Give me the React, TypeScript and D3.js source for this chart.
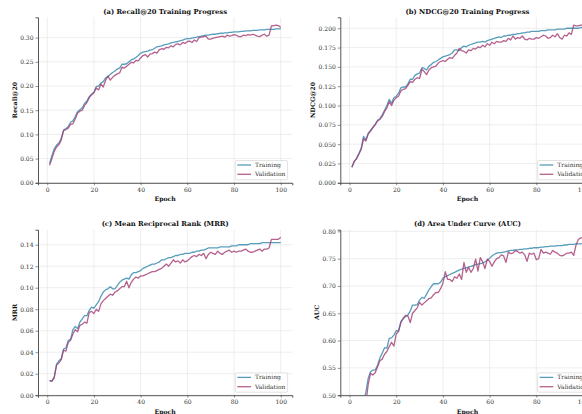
import React, { useEffect, useRef } from 'react';
import * as d3 from 'd3';

const epochs = d3.range(1, 101);

const recallTrain = [
  0.040, 0.056, 0.070, 0.078, 0.082, 0.092, 0.109, 0.112, 0.116, 0.125,
  0.128, 0.137, 0.147, 0.151, 0.155, 0.164, 0.169, 0.178, 0.183, 0.187,
  0.199, 0.200, 0.206, 0.209, 0.217, 0.219, 0.224, 0.228, 0.231, 0.235,
  0.237, 0.245, 0.245, 0.246, 0.250, 0.254, 0.256, 0.259, 0.263, 0.268,
  0.270, 0.271, 0.272, 0.274, 0.275, 0.278, 0.281, 0.282, 0.283, 0.285,
  0.286, 0.287, 0.289, 0.290, 0.291, 0.292, 0.294, 0.295, 0.297, 0.298,
  0.298, 0.299, 0.300, 0.301, 0.302, 0.303, 0.304, 0.305, 0.305, 0.306,
  0.307, 0.307, 0.308, 0.309, 0.309, 0.310, 0.310, 0.311, 0.311, 0.312,
  0.312, 0.312, 0.313, 0.313, 0.314, 0.314, 0.314, 0.315, 0.315, 0.315,
  0.316, 0.316, 0.316, 0.317, 0.317, 0.317, 0.317, 0.318, 0.318, 0.318,
];
const recallVal = [
  0.036, 0.050, 0.065, 0.074, 0.079, 0.088, 0.108, 0.110, 0.113, 0.121,
  0.122, 0.132, 0.144, 0.148, 0.150, 0.160, 0.166, 0.176, 0.182, 0.186,
  0.196, 0.192, 0.204, 0.198, 0.212, 0.221, 0.212, 0.218, 0.222, 0.225,
  0.227, 0.239, 0.237, 0.241, 0.245, 0.249, 0.248, 0.253, 0.252, 0.258,
  0.263, 0.265, 0.260, 0.266, 0.267, 0.270, 0.268, 0.275, 0.277, 0.276,
  0.280, 0.279, 0.283, 0.281, 0.286, 0.287, 0.285, 0.290, 0.288, 0.292,
  0.293, 0.290, 0.295, 0.292, 0.300, 0.301, 0.302, 0.303, 0.297, 0.297,
  0.299, 0.300, 0.301, 0.302, 0.303, 0.301, 0.305, 0.303, 0.304, 0.306,
  0.305, 0.302, 0.302, 0.305, 0.304, 0.306, 0.305, 0.307, 0.305, 0.303,
  0.302, 0.305, 0.307, 0.303, 0.305, 0.324, 0.325, 0.326, 0.325, 0.321,
];

const ndcgTrain = [
  0.020, 0.027, 0.032, 0.038, 0.045, 0.060, 0.056, 0.064, 0.068, 0.072,
  0.076, 0.081, 0.083, 0.088, 0.094, 0.100, 0.108, 0.103, 0.110, 0.112,
  0.116, 0.123, 0.124, 0.124, 0.128, 0.134, 0.134, 0.139, 0.141, 0.142,
  0.149, 0.148, 0.146, 0.151, 0.153, 0.156, 0.157, 0.159, 0.161, 0.163,
  0.164, 0.165, 0.166, 0.168, 0.172, 0.172, 0.171, 0.175, 0.177, 0.176,
  0.178, 0.179, 0.180, 0.181, 0.182, 0.182, 0.183, 0.182, 0.184, 0.185,
  0.186, 0.187, 0.188, 0.189, 0.188, 0.190, 0.190, 0.191, 0.191, 0.192,
  0.192, 0.193, 0.193, 0.194, 0.194, 0.195, 0.195, 0.196, 0.196, 0.196,
  0.196, 0.197, 0.197, 0.197, 0.198, 0.198, 0.198, 0.198, 0.199, 0.199,
  0.199, 0.199, 0.200, 0.200, 0.200, 0.200, 0.200, 0.200, 0.201, 0.201,
];
const ndcgVal = [
  0.020, 0.028, 0.031, 0.037, 0.043, 0.057, 0.054, 0.063, 0.067, 0.071,
  0.075, 0.080, 0.082, 0.086, 0.092, 0.097, 0.105, 0.100, 0.107, 0.110,
  0.112, 0.119, 0.121, 0.122, 0.126, 0.131, 0.130, 0.134, 0.136, 0.135,
  0.147, 0.144, 0.140, 0.146, 0.149, 0.150, 0.151, 0.155, 0.157, 0.158,
  0.157, 0.160, 0.162, 0.161, 0.165, 0.168, 0.174, 0.171, 0.170, 0.168,
  0.172, 0.171, 0.174, 0.173, 0.176, 0.175, 0.178, 0.176, 0.180, 0.178,
  0.182, 0.180, 0.183, 0.182, 0.182, 0.184, 0.183, 0.187, 0.185, 0.190,
  0.186, 0.188, 0.187, 0.190, 0.186, 0.185, 0.187, 0.186, 0.186, 0.188,
  0.187, 0.189, 0.191, 0.190, 0.187, 0.188, 0.191, 0.189, 0.193, 0.188,
  0.186, 0.191, 0.190, 0.194, 0.192, 0.204, 0.203, 0.203, 0.204, 0.204,
];

const mrrTrain = [
  0.0135, 0.013, 0.016, 0.029, 0.032, 0.034, 0.043, 0.044, 0.051, 0.052,
  0.061, 0.064, 0.062, 0.068, 0.071, 0.074, 0.074, 0.079, 0.082, 0.081,
  0.084, 0.087, 0.092, 0.096, 0.098, 0.099, 0.101, 0.099, 0.099, 0.102,
  0.105, 0.107, 0.108, 0.109, 0.108, 0.112, 0.114, 0.114, 0.115, 0.116,
  0.118, 0.119, 0.120, 0.121, 0.122, 0.122, 0.123, 0.124, 0.126, 0.126,
  0.127, 0.128, 0.128, 0.129, 0.130, 0.130, 0.131, 0.131, 0.132, 0.132,
  0.132, 0.133, 0.133, 0.134, 0.134, 0.135, 0.135, 0.136, 0.137, 0.137,
  0.137, 0.137, 0.137, 0.138, 0.138, 0.138, 0.138, 0.138, 0.139, 0.139,
  0.139, 0.140, 0.140, 0.140, 0.140, 0.140, 0.141, 0.141, 0.141, 0.141,
  0.141, 0.142, 0.142, 0.142, 0.142, 0.142, 0.142, 0.142, 0.142, 0.142,
];
const mrrVal = [
  0.0135, 0.013, 0.017, 0.028, 0.030, 0.033, 0.042, 0.041, 0.049, 0.051,
  0.057, 0.061, 0.059, 0.065, 0.066, 0.068, 0.067, 0.077, 0.078, 0.076,
  0.080, 0.078, 0.085, 0.088, 0.090, 0.092, 0.094, 0.093, 0.096, 0.097,
  0.099, 0.101, 0.101, 0.106, 0.100, 0.105, 0.108, 0.110, 0.109, 0.111,
  0.111, 0.112, 0.113, 0.114, 0.115, 0.115, 0.116, 0.117, 0.118, 0.120,
  0.122, 0.120, 0.123, 0.126, 0.124, 0.125, 0.123, 0.126, 0.124, 0.125,
  0.127, 0.129, 0.130, 0.129, 0.131, 0.130, 0.132, 0.127, 0.131, 0.133,
  0.132, 0.131, 0.134, 0.132, 0.131, 0.133, 0.134, 0.135, 0.133, 0.134,
  0.133, 0.134, 0.134, 0.135, 0.136, 0.134, 0.133, 0.133, 0.134, 0.135,
  0.136, 0.134, 0.136, 0.136, 0.137, 0.145, 0.145, 0.145, 0.145, 0.147,
];

const aucTrain = [
  0.400, 0.425, 0.445, 0.462, 0.478, 0.490, 0.505, 0.531, 0.543, 0.546,
  0.546, 0.555, 0.568, 0.577, 0.587, 0.586, 0.604, 0.605, 0.610, 0.618,
  0.618, 0.635, 0.640, 0.644, 0.647, 0.654, 0.665, 0.665, 0.666, 0.674,
  0.679, 0.677, 0.685, 0.693, 0.699, 0.704, 0.704, 0.704, 0.707, 0.714,
  0.717, 0.719, 0.721, 0.723, 0.725, 0.727, 0.729, 0.731, 0.732, 0.733,
  0.735, 0.736, 0.737, 0.739, 0.740, 0.741, 0.742, 0.744, 0.747, 0.751,
  0.755, 0.758, 0.760, 0.761, 0.761, 0.762, 0.763, 0.764, 0.765, 0.765,
  0.766, 0.766, 0.767, 0.767, 0.768, 0.768, 0.769, 0.769, 0.770, 0.770,
  0.770, 0.771, 0.771, 0.772, 0.772, 0.773, 0.773, 0.773, 0.774, 0.774,
  0.774, 0.775, 0.775, 0.776, 0.776, 0.776, 0.777, 0.777, 0.777, 0.778,
];
const aucVal = [
  0.370, 0.400, 0.420, 0.445, 0.460, 0.470, 0.485, 0.520, 0.540, 0.537,
  0.541, 0.552, 0.563, 0.566, 0.575, 0.580, 0.589, 0.597, 0.590, 0.612,
  0.617, 0.633, 0.641, 0.646, 0.645, 0.633, 0.650, 0.655, 0.660, 0.670,
  0.665, 0.669, 0.673, 0.677, 0.678, 0.684, 0.688, 0.688, 0.695, 0.705,
  0.726, 0.712, 0.712, 0.708, 0.717, 0.714, 0.722, 0.712, 0.743, 0.725,
  0.734, 0.725, 0.732, 0.749, 0.727, 0.752, 0.744, 0.732, 0.749, 0.745,
  0.736, 0.744, 0.750, 0.752, 0.757, 0.755, 0.743, 0.762, 0.759, 0.760,
  0.765, 0.763, 0.760, 0.762, 0.757, 0.745, 0.760, 0.758, 0.760, 0.748,
  0.750, 0.767, 0.760, 0.762, 0.760, 0.758, 0.765, 0.762, 0.760, 0.756,
  0.755, 0.757, 0.760, 0.760, 0.762, 0.756, 0.775, 0.785, 0.788, 0.788,
];

const titles = [
  '(a) Recall@20 Training Progress',
  '(b) NDCG@20 Training Progress',
  '(c) Mean Reciprocal Rank (MRR)',
  '(d) Area Under Curve (AUC)',
];
const yLabels = ['Recall@20', 'NDCG@20', 'MRR', 'AUC'];
const yDomains = [[0, 0.342], [0, 0.2142], [0, 0.154], [0.5, 0.803]];
const yTicks = [
  [0, 0.05, 0.1, 0.15, 0.2, 0.25, 0.3],
  [0, 0.025, 0.05, 0.075, 0.1, 0.125, 0.15, 0.175, 0.2],
  [0, 0.02, 0.04, 0.06, 0.08, 0.1, 0.12, 0.14],
  [0.5, 0.55, 0.6, 0.65, 0.7, 0.75, 0.8],
];
const yFormats = ['.2f', '.3f', '.2f', '.2f'];
const xTicks = [0, 20, 40, 60, 80, 100];
const seriesNames = ['Training', 'Validation'];
const trainSeries = [recallTrain, ndcgTrain, mrrTrain, aucTrain];
const valSeries = [recallVal, ndcgVal, mrrVal, aucVal];

const COLORS = ['#2E86AB', '#A23B72'];
const FONT = "'DejaVu Serif', serif";

const App = () => {
  const svgRef = useRef(null);

  useEffect(() => {
    const svg = d3.select(svgRef.current);
    svg.selectAll('*').remove();

    const colLeft = [38, 340.3];
    const rowTop = [17.3, 229.7];
    const axW = 254.3;
    const axH = 165.5;

    titles.forEach((title, i) => {
      const left = colLeft[i % 2];
      const top = rowTop[Math.floor(i / 2)];
      const x = d3.scaleLinear().domain([-3.95, 104.95]).range([left, left + axW]);
      const y = d3.scaleLinear().domain(yDomains[i]).range([top + axH, top]);

      const g = svg.append('g');

      // grid
      g.append('g')
        .selectAll('line')
        .data(yTicks[i])
        .enter()
        .append('line')
        .attr('x1', left)
        .attr('x2', left + axW)
        .attr('y1', d => y(d))
        .attr('y2', d => y(d))
        .attr('stroke', '#e3e3e3')
        .attr('stroke-width', 0.6);
      g.append('g')
        .selectAll('line')
        .data(xTicks)
        .enter()
        .append('line')
        .attr('x1', d => x(d))
        .attr('x2', d => x(d))
        .attr('y1', top)
        .attr('y2', top + axH)
        .attr('stroke', '#e3e3e3')
        .attr('stroke-width', 0.6);

      // lines, clipped to the axes box
      const clipId = 'clip' + i;
      svg.append('clipPath')
        .attr('id', clipId)
        .append('rect')
        .attr('x', left)
        .attr('y', top)
        .attr('width', axW)
        .attr('height', axH);

      const line = d3.line()
        .x((_, k) => x(epochs[k]))
        .y(d => y(d));

      [trainSeries[i], valSeries[i]].forEach((vals, s) => {
        g.append('path')
          .datum(vals)
          .attr('clip-path', `url(#${clipId})`)
          .attr('d', line)
          .attr('fill', 'none')
          .attr('stroke', COLORS[s])
          .attr('stroke-opacity', 0.8)
          .attr('stroke-width', 1.3)
          .attr('stroke-linejoin', 'round');
      });

      // axes
      const xAxis = d3.axisBottom(x).tickValues(xTicks).tickSize(2.5).tickPadding(2);
      const yAxis = d3.axisLeft(y).tickValues(yTicks[i]).tickFormat(d3.format(yFormats[i])).tickSize(2.5).tickPadding(2);

      const gx = g.append('g')
        .attr('transform', `translate(0, ${top + axH})`)
        .call(xAxis);
      const gy = g.append('g')
        .attr('transform', `translate(${left}, 0)`)
        .call(yAxis);

      [gx, gy].forEach(a => {
        a.select('.domain').attr('stroke', '#444').attr('stroke-width', 0.9);
        a.selectAll('.tick line').attr('stroke', '#444').attr('stroke-width', 0.6);
        a.selectAll('.tick text')
          .attr('font-family', FONT)
          .attr('font-size', 6)
          .attr('fill', '#333');
      });

      // title & labels
      g.append('text')
        .attr('x', left + axW / 2)
        .attr('y', top - 3.5)
        .attr('text-anchor', 'middle')
        .attr('font-family', FONT)
        .attr('font-weight', 'bold')
        .attr('font-size', 6.8)
        .attr('fill', '#111')
        .text(title);

      g.append('text')
        .attr('x', left + axW / 2)
        .attr('y', top + axH + 18.5)
        .attr('text-anchor', 'middle')
        .attr('font-family', FONT)
        .attr('font-weight', 'bold')
        .attr('font-size', 6.2)
        .attr('fill', '#111')
        .text('Epoch');

      const labelOffset = yFormats[i] === '.3f' ? 27.6 : 23;
      g.append('text')
        .attr('transform', `translate(${left - labelOffset + 2}, ${top + axH / 2}) rotate(-90)`)
        .attr('text-anchor', 'middle')
        .attr('font-family', FONT)
        .attr('font-weight', 'bold')
        .attr('font-size', 6.2)
        .attr('fill', '#111')
        .text(yLabels[i]);

      // legend
      const lgX = left + axW - 57;
      const lgY = top + axH - 22.3;
      const lg = g.append('g').attr('transform', `translate(${lgX}, ${lgY})`);
      lg.append('rect')
        .attr('width', 52.3)
        .attr('height', 19.3)
        .attr('rx', 1.5)
        .attr('fill', 'white')
        .attr('fill-opacity', 0.85)
        .attr('stroke', '#cfcfcf')
        .attr('stroke-width', 0.6);
      seriesNames.forEach((name, s) => {
        lg.append('line')
          .attr('x1', 2)
          .attr('x2', 15.7)
          .attr('y1', 4.5 + s * 9.3)
          .attr('y2', 4.5 + s * 9.3)
          .attr('stroke', COLORS[s])
          .attr('stroke-opacity', 0.8)
          .attr('stroke-width', 1.3);
        lg.append('text')
          .attr('x', 19.7)
          .attr('y', 6.6 + s * 9.3)
          .attr('font-family', FONT)
          .attr('font-size', 6)
          .attr('fill', '#333')
          .text(name);
      });
    });
  }, []);

  return (
    <div style={{ position: 'fixed', left: 0, top: 0, background: 'white' }}>
      <svg ref={svgRef} width={582} height={414} style={{ display: 'block' }}></svg>
    </div>
  );
};

export default App;
